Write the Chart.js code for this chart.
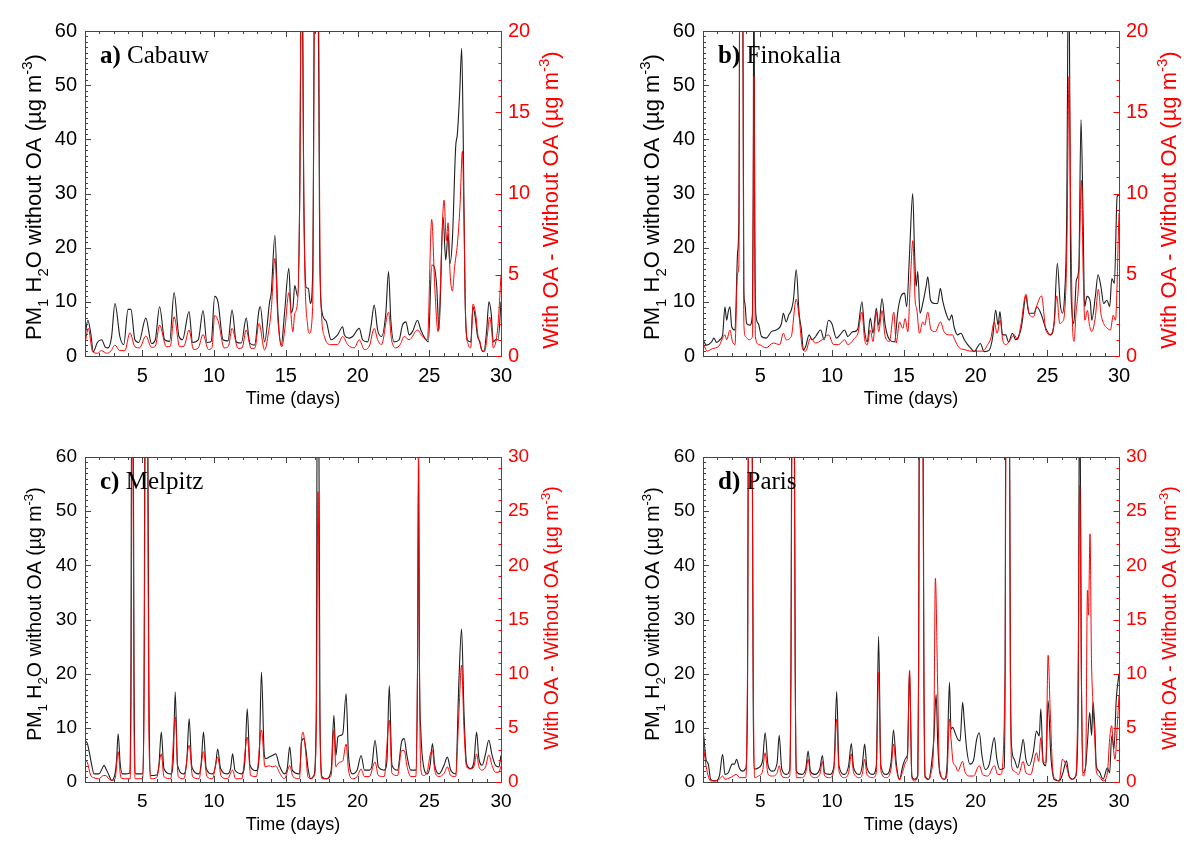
<!DOCTYPE html>
<html lang="en">
<head>
<meta charset="UTF-8">
<title>PM1 aerosol water with and without OA</title>
<script src="https://cdn.jsdelivr.net/npm/chart.js"></script>
<style>
  body { margin: 0; background: #fff; width: 1200px; height: 852px; overflow: hidden; position: relative; }
  canvas { position: absolute; }
</style>
</head>
<body>
<canvas id="panelA" width="582" height="426" style="left:0;top:0"></canvas>
<canvas id="panelB" width="582" height="426" style="left:618px;top:0"></canvas>
<canvas id="panelC" width="582" height="426" style="left:0;top:426px"></canvas>
<canvas id="panelD" width="582" height="426" style="left:618px;top:426px"></canvas>
<script>
// tick labels
const dayTicks = [5, 10, 15, 20, 25, 30];
const waterMax = 60;

// [day, PM1 H2O without OA] and [day, with OA - without OA]
const cabauwWater = [[1.0,3.6],[1.2,6.6],[1.4,4.2],[1.58,0.8],[1.86,2.5],[2.16,3.0],[2.4,1.7],[2.6,1.5],[2.85,3.5],[3.09,9.7],[3.43,3.6],[3.7,2.1],[4.0,8.6],[4.2,8.6],[4.48,3.0],[4.75,2.5],[5.24,7.0],[5.64,2.3],[5.9,3.0],[6.2,9.1],[6.55,3.0],[6.9,2.7],[7.21,11.7],[7.55,3.6],[7.8,3.0],[8.25,8.2],[8.5,2.5],[8.9,3.0],[9.23,8.4],[9.5,2.5],[9.8,2.7],[10.04,11.0],[10.27,10.0],[10.62,3.0],[10.97,2.8],[11.25,8.5],[11.55,2.6],[11.9,2.4],[12.24,7.0],[12.48,2.4],[12.82,2.0],[13.13,8.5],[13.22,9.1],[13.52,2.6],[13.87,10.0],[13.98,11.6],[14.24,22.3],[14.45,7.9],[14.68,2.0],[14.91,7.9],[15.21,16.2],[15.37,8.0],[15.5,9.0],[15.62,13.0],[15.83,11.0],[15.97,30],[16.11,80],[16.25,30],[16.41,12.7],[16.57,12.5],[16.71,9.7],[16.87,15],[17.04,80],[17.22,80],[17.36,20],[17.5,8.5],[17.8,6.5],[18.15,3.0],[18.61,3.9],[18.96,5.4],[19.08,3.9],[19.42,3.3],[19.66,3.6],[20.12,5.1],[20.35,3.0],[20.7,2.6],[20.93,5.4],[21.16,9.4],[21.4,4.8],[21.67,3.6],[21.97,7.9],[22.16,15.6],[22.32,6.6],[22.55,2.6],[22.9,3.0],[23.13,5.7],[23.37,6.3],[23.6,3.9],[23.83,4.5],[24.18,6.6],[24.41,4.8],[24.76,3.0],[24.94,2.6],[25.17,16.8],[25.34,16.5],[25.52,12.8],[25.68,4.8],[25.96,25.7],[26.15,17.7],[26.31,22.6],[26.43,17.0],[26.61,21.4],[26.84,38.6],[26.96,41.0],[27.12,48.5],[27.26,56.8],[27.38,37.4],[27.49,11.6],[27.65,3.0],[27.89,2.6],[28.05,9.1],[28.23,6.6],[28.35,3.9],[28.51,2.6],[28.65,1.1],[28.81,0.8],[29.0,4.8],[29.16,10.0],[29.32,7.8],[29.46,2.6],[29.62,3.0],[29.8,3.0],[30,10.0]];
const cabauwDiff = [[1.05,1.0],[1.23,1.7],[1.53,0.27],[1.86,0.17],[2.16,0.33],[2.5,0.17],[2.8,0.3],[3.09,0.67],[3.43,0.33],[3.78,0.33],[4.13,1.43],[4.48,0.57],[4.8,0.5],[5.24,1.23],[5.64,0.53],[5.9,0.6],[6.2,1.9],[6.67,0.57],[6.95,0.6],[7.21,2.42],[7.6,0.57],[7.9,0.6],[8.25,1.6],[8.57,0.4],[8.9,0.5],[9.23,1.33],[9.6,0.4],[9.85,0.5],[10.04,2.5],[10.3,2.1],[10.7,0.5],[11.0,0.6],[11.25,1.7],[11.67,0.47],[11.95,0.5],[12.24,1.6],[12.59,0.45],[12.85,0.5],[13.13,2.0],[13.52,0.37],[13.8,1.5],[13.98,2.8],[14.24,6.0],[14.45,2.2],[14.72,0.57],[14.95,1.8],[15.21,3.9],[15.49,1.5],[15.62,2.6],[15.83,3.5],[15.97,10],[16.11,30],[16.25,10],[16.53,1.8],[16.64,1.4],[16.87,3.0],[17.04,30],[17.22,30],[17.4,5.0],[17.69,1.2],[18.15,0.7],[18.61,0.7],[18.96,1.2],[19.31,0.7],[19.77,0.5],[20.12,1.0],[20.47,0.4],[20.82,0.6],[21.16,1.7],[21.4,1.0],[21.67,0.7],[22.16,2.7],[22.37,1.0],[22.67,0.5],[22.97,0.7],[23.25,1.2],[23.6,1.0],[24.18,1.6],[24.52,1.2],[24.87,1.0],[25.17,8.4],[25.38,4.3],[25.61,1.5],[26.03,9.6],[26.19,7.1],[26.31,8.2],[26.45,5.1],[26.61,4.0],[26.77,5.5],[26.96,6.9],[27.14,9.2],[27.31,12.6],[27.42,8.4],[27.54,2.2],[27.72,0.7],[27.89,0.5],[28.05,3.2],[28.23,2.6],[28.4,1.2],[28.53,0.9],[28.65,0.4],[28.86,0.3],[29.04,1.2],[29.21,2.4],[29.35,1.6],[29.46,0.5],[29.62,0.8],[29.8,2.0],[30,5.0]];

const finokaliaWater = [[1.0,3.0],[1.25,2.0],[1.6,2.6],[1.76,3.3],[1.95,2.5],[2.18,3.0],[2.37,3.9],[2.53,9.1],[2.65,6.6],[2.76,8.2],[2.88,9.1],[3.0,5.4],[3.23,4.8],[3.41,19],[3.5,25],[3.58,80],[3.75,80],[3.85,12],[3.92,9.7],[4.04,6.0],[4.27,5.7],[4.45,7.9],[4.5,30],[4.55,80],[4.6,30],[4.68,7.9],[4.85,6.0],[5.08,3.6],[5.4,3.3],[5.77,4.5],[6.1,4.8],[6.47,6.0],[6.6,7.9],[6.8,6.3],[6.98,7.6],[7.16,8.5],[7.3,10.3],[7.5,15.9],[7.7,7.9],[7.86,4.8],[8.0,1.1],[8.15,1.7],[8.4,3.9],[8.6,3.0],[8.85,3.6],[9.2,4.8],[9.45,3.0],[9.75,6.6],[9.98,6.0],[10.3,3.3],[10.55,3.9],[10.87,4.8],[11.1,3.6],[11.45,4.5],[11.57,4.5],[11.8,5.1],[12.08,10.0],[12.27,4.5],[12.45,2.6],[12.66,7.0],[12.85,4.2],[13.08,8.8],[13.25,5.7],[13.48,10.6],[13.7,5.7],[14.0,3.0],[14.35,2.6],[14.58,8.2],[14.8,11.0],[15.05,11.6],[15.2,9.1],[15.4,19],[15.62,30],[15.75,19],[15.86,12.8],[15.97,15.6],[16.13,7.9],[16.32,9.7],[16.55,12.8],[16.67,14.6],[16.86,10.3],[17.13,9.7],[17.35,9.7],[17.55,12.5],[17.7,10.3],[17.94,7.9],[18.17,6.6],[18.34,7.6],[18.5,5.4],[18.75,3.9],[18.98,4.2],[19.22,3.0],[19.45,2.1],[19.68,1.4],[19.91,0.8],[20.1,1.5],[20.33,2.3],[20.6,0.8],[20.95,1.1],[21.2,3.6],[21.4,8.5],[21.57,5.7],[21.7,8.2],[21.88,3.9],[22.1,3.9],[22.3,2.6],[22.57,4.2],[22.8,3.0],[23.15,4.8],[23.27,6.6],[23.5,11.0],[23.73,7.9],[24.08,7.9],[24.27,9.1],[24.55,7.9],[24.9,5.1],[25.24,3.9],[25.48,6.3],[25.7,17.1],[25.9,9.7],[26.05,7.9],[26.2,11.0],[26.35,25],[26.5,80],[26.62,19],[26.73,7.9],[26.85,6.0],[27.03,14.0],[27.2,16.2],[27.35,43.6],[27.5,25],[27.6,9.1],[27.77,11.0],[28.0,10.0],[28.1,6.6],[28.35,11.0],[28.54,15.0],[28.74,12.8],[28.93,9.7],[29.16,10.3],[29.35,9.1],[29.5,14.3],[29.68,13.4],[29.87,29.4],[30,29.7]];
const finokaliaDiff = [[1.0,0.8],[1.3,0.3],[1.65,0.45],[2.1,0.6],[2.53,1.3],[2.65,1.0],[2.88,1.6],[3.05,0.9],[3.23,0.7],[3.41,5.1],[3.5,5.6],[3.58,30],[3.75,30],[3.85,2.0],[3.96,1.2],[4.2,1.0],[4.45,1.2],[4.55,17.2],[4.65,1.2],[4.9,0.7],[5.4,0.5],[5.9,0.8],[6.35,0.7],[6.6,1.4],[6.8,1.0],[7.15,1.2],[7.5,3.5],[7.7,2.4],[7.95,0.4],[8.15,0.3],[8.5,1.1],[8.85,0.8],[9.3,1.0],[9.75,1.3],[10.1,0.7],[10.45,0.7],[10.87,1.0],[11.1,0.7],[11.57,1.1],[11.8,1.4],[12.08,2.7],[12.27,1.0],[12.45,0.7],[12.66,1.6],[12.85,0.9],[13.08,2.7],[13.25,1.5],[13.48,2.8],[13.7,1.2],[14.0,0.9],[14.3,2.7],[14.47,0.8],[14.7,2.1],[14.93,1.7],[15.09,2.3],[15.28,1.5],[15.46,4.7],[15.63,7.1],[15.79,3.4],[15.9,2.9],[16.09,1.4],[16.32,2.1],[16.45,1.9],[16.67,2.7],[16.9,1.6],[17.2,1.5],[17.55,2.1],[17.8,1.5],[18.18,1.3],[18.4,1.3],[18.55,1.0],[18.87,0.5],[19.2,0.4],[19.68,0.3],[20.15,0.3],[20.5,0.3],[20.84,0.7],[21.07,1.1],[21.3,2.1],[21.5,1.4],[21.72,2.2],[21.89,1.0],[22.12,0.7],[22.35,0.9],[22.7,1.3],[22.92,1.0],[23.16,1.9],[23.51,3.8],[23.73,2.6],[24.03,2.4],[24.27,3.1],[24.6,3.7],[24.9,1.6],[25.24,1.3],[25.48,2.0],[25.66,3.7],[25.87,2.0],[26.05,2.1],[26.2,2.6],[26.36,6.3],[26.52,17.2],[26.64,8.4],[26.75,2.2],[26.87,0.9],[27.0,2.6],[27.2,4.8],[27.38,10.8],[27.5,5.3],[27.62,2.2],[27.8,2.8],[27.94,1.9],[28.1,1.5],[28.35,2.4],[28.56,4.1],[28.74,2.6],[28.93,2.0],[29.19,1.7],[29.4,1.6],[29.6,2.5],[29.75,2.2],[30,8.8]];

const melpitzWater = [[1.0,7.5],[1.15,7.2],[1.3,5.5],[1.47,3.1],[1.63,1.5],[1.98,1.5],[2.2,2.5],[2.33,3.1],[2.45,2.5],[2.63,1.5],[2.86,0.3],[3.09,1.5],[3.2,4.0],[3.31,8.9],[3.45,3.5],[3.6,1.5],[3.79,1.5],[4.1,1.6],[4.2,20],[4.26,80],[4.34,80],[4.42,20],[4.53,1.5],[5.0,1.5],[5.12,20],[5.2,80],[5.35,80],[5.45,20],[5.58,1.2],[6.0,1.3],[6.15,3.0],[6.32,9.2],[6.5,2.5],[6.98,1.5],[7.15,4.0],[7.29,16.6],[7.45,3.1],[7.9,1.5],[8.1,4.0],[8.26,11.7],[8.45,2.8],[8.95,1.5],[9.1,3.5],[9.26,9.2],[9.45,2.5],[9.88,1.5],[10.1,3.0],[10.25,6.1],[10.45,2.5],[10.93,1.5],[11.15,2.5],[11.29,5.2],[11.45,2.2],[11.93,1.5],[12.15,4.0],[12.31,13.5],[12.5,3.1],[12.95,2.1],[13.15,5.0],[13.3,20.3],[13.5,5.0],[13.6,4.3],[13.84,4.6],[14.07,4.9],[14.3,5.2],[14.54,3.1],[14.9,1.5],[15.1,2.5],[15.27,6.5],[15.45,2.2],[15.95,1.5],[16.1,7.5],[16.25,8.0],[16.4,6.0],[16.55,2.5],[16.73,0.6],[16.96,1.2],[17.12,12],[17.2,80],[17.28,80],[17.38,12],[17.52,1.0],[17.82,0.6],[18.16,2.2],[18.35,12.3],[18.49,4.9],[18.63,8.3],[18.81,8.6],[18.97,8.9],[19.2,16.3],[19.37,4.9],[19.67,1.5],[19.97,2.2],[20.25,4.9],[20.48,2.2],[20.82,2.2],[21.0,3.0],[21.22,7.7],[21.45,2.8],[21.86,2.2],[22.05,4.0],[22.21,17.8],[22.4,3.1],[22.79,2.2],[23.07,7.4],[23.25,8.0],[23.44,4.9],[23.71,2.2],[24.06,2.2],[24.18,20],[24.25,58],[24.32,20],[24.41,9.5],[24.59,3.1],[24.87,1.5],[25.06,3.1],[25.22,7.1],[25.38,3.1],[25.68,1.5],[26.03,3.1],[26.26,4.6],[26.49,2.2],[26.84,1.5],[27.07,19],[27.25,28.3],[27.42,12.9],[27.6,3.4],[27.88,2.5],[28.11,3.7],[28.3,9.2],[28.46,4.3],[28.69,3.1],[28.92,5.2],[29.15,7.7],[29.38,4.9],[29.61,3.1],[29.85,2.8],[30,4.9]];
const melpitzDiff = [[1.0,2.0],[1.15,1.85],[1.4,0.6],[1.6,0.4],[1.95,0.3],[2.3,0.6],[2.45,0.6],[2.65,0.3],[2.9,0.15],[3.1,0.3],[3.31,2.8],[3.5,0.4],[3.8,0.3],[4.15,0.3],[4.22,10],[4.28,32],[4.34,32],[4.42,5],[4.5,0.3],[5.0,0.3],[5.12,8],[5.2,32],[5.35,32],[5.45,5],[5.6,0.3],[6.0,0.4],[6.32,2.6],[6.5,0.5],[6.98,0.3],[7.29,6.0],[7.5,0.5],[7.9,0.3],[8.26,3.4],[8.5,0.5],[8.95,0.3],[9.26,2.8],[9.5,0.5],[9.88,0.3],[10.25,2.3],[10.5,0.5],[10.93,0.3],[11.29,1.1],[11.5,0.3],[11.93,0.3],[12.31,4.15],[12.55,0.6],[12.95,0.5],[13.3,4.8],[13.55,1.4],[13.84,1.5],[14.07,1.4],[14.3,1.5],[14.54,0.9],[14.9,0.3],[15.27,1.5],[15.5,0.5],[15.95,0.3],[16.1,4.0],[16.2,4.6],[16.36,3.1],[16.54,0.5],[16.73,0.3],[16.96,0.5],[17.12,5],[17.24,26.8],[17.38,5],[17.52,0.3],[17.82,0.3],[18.16,0.6],[18.35,4.8],[18.49,1.4],[18.63,1.7],[18.81,1.85],[18.97,1.95],[19.2,3.5],[19.37,1.1],[19.67,0.3],[19.97,0.5],[20.25,1.2],[20.48,0.5],[20.82,0.5],[21.22,1.85],[21.45,0.6],[21.86,0.5],[22.21,5.7],[22.4,0.8],[22.79,0.6],[23.07,2.9],[23.25,2.9],[23.44,1.5],[23.71,0.5],[24.06,0.5],[24.2,15],[24.25,32],[24.32,10],[24.41,1.2],[24.59,0.6],[24.87,1.0],[25.06,2.5],[25.22,2.9],[25.38,1.1],[25.68,0.5],[26.03,0.8],[26.26,1.4],[26.49,0.6],[26.84,0.5],[27.07,6.5],[27.25,10.8],[27.42,4.9],[27.6,1.4],[27.88,1.2],[28.11,1.4],[28.3,2.6],[28.46,1.4],[28.69,1.1],[28.92,1.4],[29.15,2.5],[29.38,1.5],[29.61,0.9],[29.85,0.9],[30,1.5]];

const parisWater = [[1.0,9.8],[1.07,8.0],[1.21,4.2],[1.37,3.3],[1.53,0.5],[1.83,0.2],[2.14,1.1],[2.37,5.1],[2.53,1.4],[2.76,1.7],[3.04,3.3],[3.2,3.3],[3.34,4.2],[3.53,2.6],[3.76,2.0],[3.99,2.6],[4.1,15],[4.18,80],[4.41,80],[4.5,15],[4.57,2.4],[4.85,2.6],[5.15,3.9],[5.33,9.1],[5.54,3.0],[5.84,2.0],[6.17,3.6],[6.31,8.6],[6.49,2.4],[6.82,1.4],[7.05,2.4],[7.13,20],[7.21,80],[7.35,80],[7.43,20],[7.51,2.0],[7.86,1.4],[8.16,2.4],[8.33,5.7],[8.49,2.0],[8.79,1.4],[9.14,2.4],[9.32,4.9],[9.48,1.7],[9.83,1.4],[10.13,3.0],[10.32,16.7],[10.48,3.0],[10.87,1.4],[11.15,3.0],[11.34,7.1],[11.5,2.6],[11.92,1.4],[12.1,3.0],[12.27,7.0],[12.43,2.6],[12.85,1.4],[13.08,3.0],[13.24,26.9],[13.4,3.0],[13.77,1.4],[14.12,3.9],[14.28,9.6],[14.47,3.6],[14.7,0.5],[14.93,3.0],[15.16,4.5],[15.25,5.0],[15.4,20.5],[15.56,1.1],[15.74,0.5],[15.97,1.1],[16.03,20],[16.09,80],[16.32,80],[16.4,20],[16.48,1.1],[16.74,0.5],[16.9,2.6],[17.09,7.9],[17.25,16.2],[17.37,6.7],[17.53,1.4],[17.83,0.5],[18.01,3.0],[18.18,18.4],[18.29,9.75],[18.41,10.1],[18.57,9.1],[18.76,7.9],[18.92,7.6],[19.1,14.7],[19.22,11.0],[19.38,6.1],[19.61,3.3],[19.85,3.9],[20.08,7.9],[20.26,9.1],[20.45,4.8],[20.68,2.3],[20.96,3.3],[21.31,8.2],[21.47,4.5],[21.7,2.3],[22.0,2.6],[22.06,20],[22.12,80],[22.35,80],[22.43,20],[22.51,6.6],[22.7,4.2],[22.93,2.6],[23.16,5.4],[23.32,7.9],[23.51,4.2],[23.74,3.0],[24.02,5.4],[24.25,9.4],[24.44,8.5],[24.55,13.5],[24.71,3.6],[24.9,3.0],[25.06,15.0],[25.25,4.8],[25.48,0.5],[25.83,0.2],[26.06,1.4],[26.34,3.9],[26.52,1.1],[26.75,0.5],[26.99,1.1],[27.15,12.9],[27.26,80],[27.38,19],[27.5,1.7],[27.68,3.0],[27.8,7.3],[27.96,12.8],[28.09,8.6],[28.19,14.7],[28.31,10.4],[28.42,3.0],[28.61,2.0],[28.89,0.5],[29.19,2.6],[29.35,1.7],[29.49,8.5],[29.6,7.0],[29.65,6.1],[29.81,15.3],[30,20]];
const parisDiff = [[1.0,3.3],[1.07,2.9],[1.21,1.5],[1.4,0.4],[1.53,0.1],[1.83,0.1],[2.14,0.25],[2.37,0.55],[2.53,0.25],[2.9,0.4],[3.34,0.7],[3.55,0.4],[3.99,0.4],[4.1,10],[4.18,32],[4.41,32],[4.5,10],[4.6,0.4],[4.85,0.55],[5.15,1.0],[5.33,2.7],[5.54,0.7],[5.84,0.55],[6.17,0.85],[6.31,1.5],[6.49,0.55],[6.82,0.4],[7.05,0.55],[7.13,10],[7.21,32],[7.35,32],[7.43,10],[7.51,0.4],[7.86,0.4],[8.16,0.85],[8.33,2.1],[8.49,0.7],[8.79,0.4],[9.14,0.7],[9.32,1.9],[9.48,0.55],[9.83,0.4],[10.13,1.2],[10.32,5.8],[10.48,1.0],[10.87,0.4],[11.15,0.85],[11.34,2.6],[11.5,0.85],[11.92,0.4],[12.1,0.7],[12.27,2.1],[12.43,0.7],[12.85,0.4],[13.08,0.85],[13.24,10.1],[13.4,1.0],[13.77,0.4],[14.12,1.3],[14.28,3.5],[14.47,1.3],[14.7,0.2],[14.93,1.0],[15.16,1.9],[15.25,2.2],[15.4,10.3],[15.56,0.4],[15.74,0.1],[15.97,0.55],[16.03,10],[16.09,32],[16.32,32],[16.4,10],[16.48,0.4],[16.74,0.25],[16.9,0.85],[17.09,4.3],[17.2,18.8],[17.35,9.5],[17.48,1.3],[17.83,0.25],[18.01,0.7],[18.18,5.8],[18.29,4.0],[18.44,1.8],[18.6,1.5],[18.76,1.0],[19.1,1.9],[19.25,1.0],[19.55,0.55],[19.85,0.55],[20.26,1.5],[20.5,0.7],[20.85,0.55],[21.31,1.5],[21.55,0.7],[21.75,0.7],[22.06,10],[22.12,32],[22.35,32],[22.43,10],[22.51,1.5],[22.7,1.0],[23.0,0.7],[23.32,1.9],[23.51,0.85],[23.85,0.7],[24.25,2.7],[24.4,1.9],[24.55,4.1],[24.71,1.9],[24.9,1.8],[25.06,11.7],[25.2,6.7],[25.4,0.85],[25.6,0.25],[25.83,0.1],[26.06,2.1],[26.3,1.6],[26.52,0.55],[26.75,0.25],[26.99,0.55],[27.15,9.5],[27.26,27.4],[27.38,9.5],[27.5,0.55],[27.68,1.6],[27.8,17.7],[27.87,15.4],[27.98,22.9],[28.08,11.4],[28.17,7.7],[28.31,4.0],[28.42,1.0],[28.61,0.55],[28.89,0.1],[29.19,0.85],[29.35,4.0],[29.49,5.2],[29.6,3.3],[29.72,2.1],[29.88,5.2],[30,8.0]];

const SANS = "'Liberation Sans', Arial, sans-serif";
const SERIF = "'Liberation Serif', 'Times New Roman', serif";
const RED = '#ff0000';
const INK = '#1e1e1e';

function toXY(pts) {
  return pts.map(p => ({ x: p[0], y: p[1] }));
}

// writes a run of text pieces rotated -90deg, centred on cy; kind 1 = subscript, 2 = superscript
function drawVertical(ctx, baseX, cy, parts, size, color) {
  const small = size * 0.68;
  const fontFor = k => (k ? small : size) + 'px ' + SANS;
  let total = 0;
  parts.forEach(([t, k]) => { ctx.font = fontFor(k); total += ctx.measureText(t).width; });
  ctx.save();
  ctx.translate(baseX, cy);
  ctx.rotate(-Math.PI / 2);
  ctx.fillStyle = color;
  ctx.textBaseline = 'alphabetic';
  ctx.textAlign = 'left';
  let x = -total / 2;
  parts.forEach(([t, k]) => {
    ctx.font = fontFor(k);
    const dy = k === 1 ? size * 0.3 : k === 2 ? -size * 0.42 : 0;
    ctx.fillText(t, x, dy);
    x += ctx.measureText(t).width;
  });
  ctx.restore();
}

// box round the plot with IDL-style inward ticks
const framePlugin = {
  id: 'frame',
  afterDatasetsDraw(chart) {
    const { ctx, chartArea: a, scales: { x, y, y2 } } = chart;
    ctx.save();
    ctx.lineWidth = 1;
    ctx.strokeStyle = '#444';
    ctx.beginPath();
    for (let d = 1; d <= 30; d++) {
      const px = Math.round(x.getPixelForValue(d)) + 0.5;
      const len = d % 5 === 0 ? 6 : 3;
      ctx.moveTo(px, a.bottom); ctx.lineTo(px, a.bottom - len);
      ctx.moveTo(px, a.top); ctx.lineTo(px, a.top + len);
    }
    for (let v = 0; v <= y.max; v++) {
      const py = Math.round(y.getPixelForValue(v)) + 0.5;
      ctx.moveTo(a.left, py); ctx.lineTo(a.left + (v % 10 === 0 ? 6 : 3), py);
    }
    ctx.stroke();
    ctx.beginPath();
    ctx.moveTo(Math.round(a.right) + 0.5, Math.round(a.top) + 0.5);
    ctx.lineTo(Math.round(a.left) + 0.5, Math.round(a.top) + 0.5);
    ctx.lineTo(Math.round(a.left) + 0.5, Math.round(a.bottom) + 0.5);
    ctx.lineTo(Math.round(a.right) + 0.5, Math.round(a.bottom) + 0.5);
    ctx.stroke();
    ctx.strokeStyle = RED;
    ctx.beginPath();
    const rx = Math.round(a.right) + 0.5;
    ctx.moveTo(rx, a.top); ctx.lineTo(rx, a.bottom + 0.5);
    for (let v = 0; v <= y2.max; v++) {
      const py = Math.round(y2.getPixelForValue(v)) + 0.5;
      ctx.moveTo(rx, py); ctx.lineTo(rx - (v % 5 === 0 ? 6 : 3), py);
    }
    ctx.stroke();
    ctx.restore();
  }
};

function textPlugin(p) {
  return {
    id: 'texts',
    afterDraw(chart) {
      const { ctx, chartArea: a } = chart;
      ctx.save();
      // panel name
      ctx.fillStyle = '#000';
      ctx.textBaseline = 'alphabetic';
      ctx.textAlign = 'left';
      ctx.font = 'bold 25px ' + SERIF;
      const tx = a.left + 15, ty = a.top + 32;
      ctx.fillText(p.letter, tx, ty);
      const w = ctx.measureText(p.letter + ' ').width;
      ctx.font = '25px ' + SERIF;
      ctx.fillText(p.site, tx + w, ty);
      // x title
      ctx.font = '18px ' + SANS;
      ctx.textAlign = 'center';
      ctx.fillText('Time (days)', (a.left + a.right) / 2, 404);
      ctx.restore();
      drawVertical(ctx, 41, p.leftMid,
        [['PM', 0], ['1', 1], [' H', 0], ['2', 1], ['O without OA (\u00b5g m', 0], ['-3', 2], [')', 0]],
        p.titleSize, '#000');
      drawVertical(ctx, 558, p.rightMid,
        [['With OA - Without OA (\u00b5g m', 0], ['-3', 2], [')', 0]],
        p.titleSize, RED);
    }
  };
}

function buildPanel(canvasId, p) {
  const tickFont = { family: SANS, size: p.tickSize };
  return new Chart(document.getElementById(canvasId), {
    type: 'line',
    data: {
      datasets: [
        { data: toXY(p.diff), yAxisID: 'y2', borderColor: RED, borderWidth: 1 },
        { data: toXY(p.water), yAxisID: 'y', borderColor: INK, borderWidth: 1.1 }
      ]
    },
    options: {
      responsive: false,
      animation: false,
      events: [],
      elements: { point: { radius: 0 }, line: { cubicInterpolationMode: 'monotone' } },
      layout: { padding: { top: 31, left: 0, right: 0, bottom: 0 } },
      plugins: { legend: { display: false }, tooltip: { enabled: false } },
      scales: {
        x: {
          type: 'linear', min: 1, max: 30,
          afterBuildTicks: s => { s.ticks = dayTicks.map(v => ({ value: v })); },
          afterFit: s => { s.height = 70; },
          grid: { display: false, drawTicks: false },
          border: { display: false },
          ticks: { color: '#000', padding: 8, font: tickFont, maxRotation: 0, autoSkip: false }
        },
        y: {
          min: 0, max: waterMax,
          afterFit: s => { s.width = 85; },
          grid: { display: false, drawTicks: false },
          border: { display: false },
          ticks: { stepSize: 10, color: '#000', padding: 8, font: tickFont }
        },
        y2: {
          position: 'right', min: 0, max: p.rightMax,
          afterFit: s => { s.width = 81; },
          grid: { display: false, drawTicks: false },
          border: { display: false },
          ticks: { stepSize: 5, color: RED, padding: 7, font: tickFont }
        }
      }
    },
    plugins: [framePlugin, textPlugin(p)]
  });
}

const topRow = { tickSize: 20, titleSize: 22, leftMid: 197, rightMid: 200 };
const bottomRow = { tickSize: 19, titleSize: 19.5, leftMid: 188, rightMid: 192 };

buildPanel('panelA', Object.assign({ letter: 'a)', site: 'Cabauw', rightMax: 20, water: cabauwWater, diff: cabauwDiff }, topRow));
buildPanel('panelB', Object.assign({ letter: 'b)', site: 'Finokalia', rightMax: 20, water: finokaliaWater, diff: finokaliaDiff }, topRow));
buildPanel('panelC', Object.assign({ letter: 'c)', site: 'Melpitz', rightMax: 30, water: melpitzWater, diff: melpitzDiff }, bottomRow));
buildPanel('panelD', Object.assign({ letter: 'd)', site: 'Paris', rightMax: 30, water: parisWater, diff: parisDiff }, bottomRow));
</script>
</body>
</html>
